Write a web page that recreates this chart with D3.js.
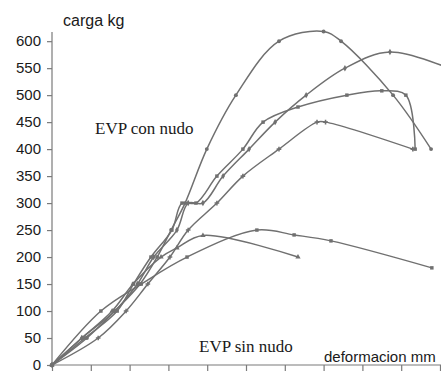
<!DOCTYPE html>
<html>
<head>
<meta charset="utf-8">
<script src="https://cdn.jsdelivr.net/npm/d3@7"></script>
<style>
  html, body { margin: 0; padding: 0; background: #fff; }
  svg { display: block; }
</style>
</head>
<body>
<svg id="chart" width="441" height="373"></svg>
<script>
// ---- data (x in tick units of deformation, y in kg) ----
const yTicks = [0, 50, 100, 150, 200, 250, 300, 350, 400, 450, 500, 550, 600];
const xTicks = [0, 1, 2, 3, 4, 5, 6, 7, 8, 9, 10];

const serieA_x = [0, 0.9, 1.62, 2.27, 2.71, 3.07, 3.43, 3.99, 4.74, 5.85, 7.0, 7.45, 8.79, 9.77];
const serieA_y = [0, 50, 100, 150, 200, 250, 300, 400, 500, 600, 618, 600, 500, 400];

const serieB_x = [0, 0.77, 1.62, 2.2, 2.62, 3.22, 3.51, 3.89, 4.41, 5.08, 5.75, 6.55, 7.55, 8.71, 10.4];
const serieB_y = [0, 50, 100, 150, 200, 250, 300, 300, 350, 400, 450, 500, 550, 580, 545];

const serieC_x = [0, 0.85, 1.68, 2.1, 2.55, 3.09, 3.35, 3.71, 4.25, 4.92, 5.44, 6.34, 7.6, 8.5, 9.12, 9.36];
const serieC_y = [0, 50, 100, 150, 200, 250, 300, 300, 350, 400, 450, 478, 500, 508, 500, 400];

const serieD_x = [0, 1.19, 1.91, 2.47, 3.04, 3.51, 4.25, 4.92, 5.85, 6.83, 7.05, 9.30];
const serieD_y = [0, 50, 100, 150, 200, 250, 300, 350, 400, 450, 450, 400];

const serieE_x = [0, 0.77, 1.55, 2.09, 2.81, 3.22, 3.89, 6.34];
const serieE_y = [0, 50, 100, 150, 200, 217, 240, 200];

const serieF_x = [0, 1.26, 2.3, 3.48, 5.28, 6.24, 7.19, 9.79];
const serieF_y = [0, 100, 150, 200, 250, 241, 230, 180];

const series = [
  { xs: serieA_x, ys: serieA_y, sym: d3.symbolCircle },
  { xs: serieB_x, ys: serieB_y, sym: d3.symbolDiamond },
  { xs: serieC_x, ys: serieC_y, sym: d3.symbolSquare },
  { xs: serieD_x, ys: serieD_y, sym: d3.symbolCross },
  { xs: serieE_x, ys: serieE_y, sym: d3.symbolTriangle },
  { xs: serieF_x, ys: serieF_y, sym: d3.symbolSquare }
];

// ---- layout ----
const svg = d3.select("#chart");
const x = d3.scaleLinear().domain([0, 10]).range([52, 440]);
const y = d3.scaleLinear().domain([0, 617]).range([365, 32]);
const axisColor = "#7a7a7a";
const lineColor = "#707070";

svg.append("defs").append("clipPath").attr("id", "clip")
  .append("rect").attr("x", 40).attr("y", 0).attr("width", 401).attr("height", 373);

// y axis
const yAxis = d3.axisLeft(y).tickValues(yTicks).tickSize(5).tickPadding(6).tickFormat(d3.format("d"));
const gy = svg.append("g").attr("transform", "translate(52,0)").call(yAxis);
gy.select(".domain").attr("stroke", axisColor).attr("stroke-width", 1.2).attr("d", `M0,${y(617)}V${y(0)}`);
gy.selectAll(".tick line").attr("stroke", axisColor).attr("stroke-width", 1.2);
gy.selectAll(".tick text").attr("fill", "#1a1a1a").style("font-family", "'Liberation Sans', Arial, sans-serif").style("font-size", "15px");

// x axis
const xAxis = d3.axisBottom(x).tickValues(xTicks).tickSize(6).tickFormat("");
const gx = svg.append("g").attr("transform", "translate(0,365)").call(xAxis);
gx.select(".domain").attr("stroke", axisColor).attr("stroke-width", 1.2).attr("d", `M52,0H441`);
gx.selectAll(".tick line").attr("stroke", axisColor).attr("stroke-width", 1.2);

// lines
const plot = svg.append("g").attr("clip-path", "url(#clip)");
const line = d3.line().x(d => x(d[0])).y(d => y(d[1])).curve(d3.curveCatmullRom.alpha(0.5));

series.forEach(s => {
  const pts = s.xs.map((v, i) => [v, s.ys[i]]);
  plot.append("path").datum(pts)
    .attr("fill", "none").attr("stroke", lineColor).attr("stroke-width", 1.5)
    .attr("d", line);
  plot.selectAll(null).data(pts).enter().append("path")
    .attr("transform", d => `translate(${x(d[0])},${y(d[1])})`)
    .attr("d", d3.symbol().type(s.sym).size(12))
    .attr("fill", lineColor);
});

// texts
svg.append("text").attr("x", 63).attr("y", 26).text("carga kg")
  .attr("fill", "#1a1a1a").style("font-family", "'Liberation Sans', Arial, sans-serif").style("font-size", "16px");
svg.append("text").attr("x", 324).attr("y", 362).text("deformacion mm")
  .attr("fill", "#1a1a1a").style("font-family", "'Liberation Sans', Arial, sans-serif").style("font-size", "15px");
svg.append("text").attr("x", 95).attr("y", 134).text("EVP con nudo")
  .attr("fill", "#1a1a1a").style("font-family", "'Liberation Serif', 'Times New Roman', serif").style("font-size", "17px");
svg.append("text").attr("x", 199).attr("y", 352).text("EVP sin nudo")
  .attr("fill", "#1a1a1a").style("font-family", "'Liberation Serif', 'Times New Roman', serif").style("font-size", "17px");
</script>
</body>
</html>
